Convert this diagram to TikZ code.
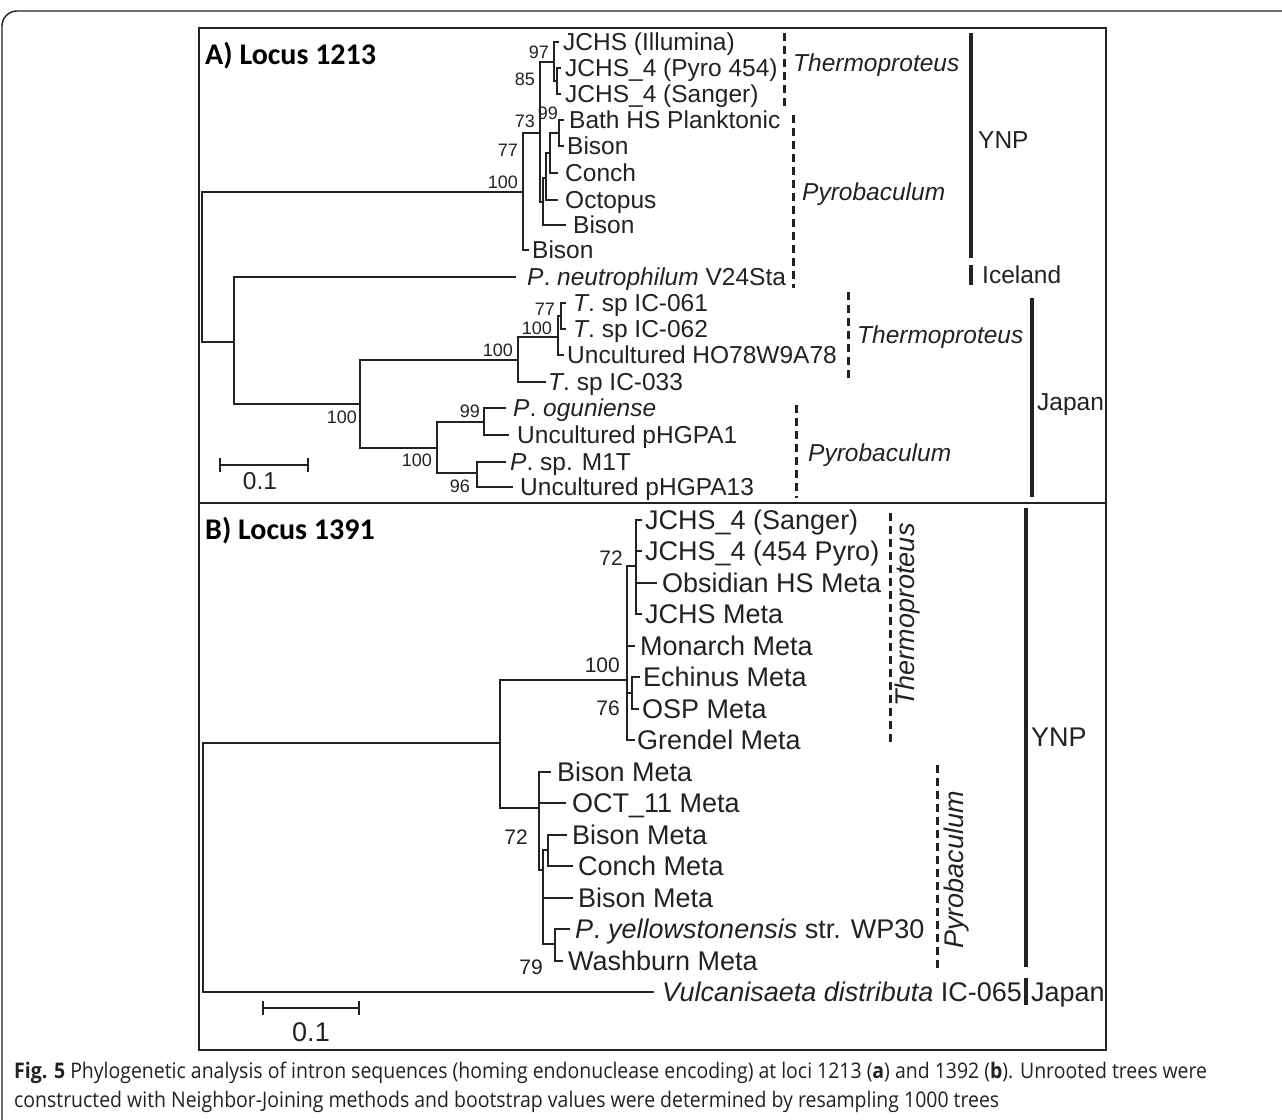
\documentclass[tikz,border=0pt]{standalone}
\usepackage{fontspec}
\setmainfont{Liberation Sans}
\newfontfamily\calib{Carlito}
\newfontfamily\capf[FakeStretch=0.905]{Open Sans}
\newcommand\fsA{\fontsize{24.5}{28}\selectfont}
\newcommand\fsB{\fontsize{27}{31}\selectfont}
\newcommand\fsBS{\fontsize{18}{21}\selectfont}
\newcommand\fsBB{\fontsize{21}{24}\selectfont}
\newcommand\fsT{\fontsize{30}{34}\selectfont}
\newcommand\fsC{\fontsize{21.5}{25}\selectfont}
\definecolor{ink}{HTML}{222222}
\tikzset{
  tl/.style={line width=1.9pt, draw=ink, line cap=rect},
  lfA/.style={anchor=base west, inner sep=0pt, yshift=-8.8pt, font=\fsA, text=ink},
  lfB/.style={anchor=base west, inner sep=0pt, yshift=-9.7pt, font=\fsB, text=ink},
  bsA/.style={anchor=base east, inner sep=0pt, yshift=-6.4pt, font=\fsBS, text=ink},
  bsB/.style={anchor=base east, inner sep=0pt, yshift=-7.5pt, font=\fsBB, text=ink},
  grp/.style={line width=3pt, draw=ink, dash pattern=on 8pt off 5pt},
  geo/.style={line width=3.2pt, draw=ink},
  box/.style={line width=1.8pt, draw=ink},
  ttl/.style={anchor=base west, inner sep=0pt, yshift=-9.7pt, font=\calib\bfseries\fsT, text=black},
}
\begin{document}
\begin{tikzpicture}[x=1pt,y=-1pt]
\useasboundingbox (0,0) rectangle (1282,1119);
\clip (0,0) rectangle (1282,1119);
\fill[white] (0,0) rectangle (1282,1119);
% outer frame
\draw[line width=1.4pt, draw=ink, rounded corners=15pt] (2,1160) -- (2,11) -- (1320,11);
% panels
\draw[box] (199,28) rectangle (1106,1050);
\draw[box] (199,503) -- (1106,503);
\node[ttl] (tA) at (205,55) {A) Locus 1213};
\node[ttl] (tB) at (205,530) {B) Locus 1391};

% ---------------- Panel A leaves
\node[lfA] (a1) at (563,42) {JCHS (Illumina)};
\node[lfA] (a2) at (565,68) {JCHS\_4 (Pyro 454)};
\node[lfA] (a3) at (565,94) {JCHS\_4 (Sanger)};
\node[lfA] (a4) at (569,120) {Bath HS Planktonic};
\node[lfA] (a5) at (567,146) {Bison};
\node[lfA] (a6) at (565,173) {Conch};
\node[lfA] (a7) at (565,200) {Octopus};
\node[lfA] (a8) at (573,225) {Bison};
\node[lfA] (a9) at (532,250) {Bison};
\node[lfA] (a10) at (527,277) {\textit{P}. \textit{neutrophilum} V24Sta};
\node[lfA] (a11) at (573,303) {\textit{T}. sp IC-061};
\node[lfA] (a12) at (573,329) {\textit{T}. sp IC-062};
\node[lfA] (a13) at (567,355) {Uncultured HO78W9A78};
\node[lfA] (a14) at (548,382) {\textit{T}. sp IC-033};
\node[lfA] (a15) at (513,408) {\textit{P}. \textit{oguniense}};
\node[lfA] (a16) at (517,435) {Uncultured pHGPA1};
\node[lfA] (a17) at (510,462) {\textit{P}. sp. M1T};
\node[lfA] (a18) at (520,487) {Uncultured pHGPA13};

% Panel A tree
\draw[tl] (558,42) -| (554,81) -- (557,81);
\draw[tl] (560,68) -| (557,94) -- (560,94);
\draw[tl] (540,62) -- (554,62);
\draw[tl] (540,62) -- (540,202) -- (543,202);
\draw[tl] (523,133) -- (540,133);
\draw[tl] (523,133) -- (523,250) -- (528,250);
\draw[tl] (563,120) -| (559,146) -- (563,146);
\draw[tl] (550,133) -- (559,133);
\draw[tl] (550,133) -- (550,173) -- (557,173);
\draw[tl] (546,153) -- (550,153);
\draw[tl] (546,153) -- (546,200) -- (557,200);
\draw[tl] (543,178) -- (546,178);
\draw[tl] (543,178) -- (543,225) -- (565,225);
\draw[tl] (523,192) -- (202,192) -- (202,342) -- (234,342);
\draw[tl] (515,277) -| (234,404) -- (360,404);
\draw[tl] (518,360) -| (360,448) -- (437,448);
\draw[tl] (558,337) -| (518,382) -- (545,382);
\draw[tl] (561,316) -| (558,355) -- (563,355);
\draw[tl] (565,303) -| (561,329) -- (565,329);
\draw[tl] (484,422) -| (437,473) -- (477,473);
\draw[tl] (505,408) -| (484,435) -- (508,435);
\draw[tl] (505,462) -| (477,487) -- (512,487);

% bootstrap A
\node[bsA] (ba1) at (549,52) {97};
\node[bsA] (ba2) at (535,79) {85};
\node[bsA] (ba3) at (558,113) {99};
\node[bsA] (ba4) at (535,121) {73};
\node[bsA] (ba5) at (518,150) {77};
\node[bsA] (ba6) at (518,182) {100};
\node[bsA] (ba7) at (555,309) {77};
\node[bsA] (ba8) at (552,328) {100};
\node[bsA] (ba9) at (513,350) {100};
\node[bsA] (ba10) at (357,417) {100};
\node[bsA] (ba11) at (480,411) {99};
\node[bsA] (ba12) at (432,460) {100};
\node[bsA] (ba13) at (470,486) {96};

% scale A
\draw[tl] (220,465) -- (308,465);
\draw[tl] (220,459) -- (220,471);
\draw[tl] (308,459) -- (308,471);
\node[font=\fsA, text=ink, inner sep=0pt] (sA) at (260,481) {0.1};

% groups A
\draw[grp] (784,33) -- (784,108);
\node[lfA, font=\fsA\itshape] (gA1) at (793,63) {Thermoproteus};
\draw[grp] (793,115) -- (793,288);
\node[lfA, font=\fsA\itshape] (gA2) at (802,192) {Pyrobaculum};
\draw[geo] (971,33) -- (971,258);
\node[lfA] (gA3) at (978,140) {YNP};
\draw[geo] (971,265) -- (971,285);
\node[lfA] (gA4) at (982,275) {Iceland};
\draw[grp] (848,292) -- (848,383);
\node[lfA, font=\fsA\itshape] (gA5) at (857,335) {Thermoproteus};
\draw[grp] (796,405) -- (796,498);
\node[lfA, font=\fsA\itshape] (gA6) at (808,453) {Pyrobaculum};
\draw[geo] (1032,298) -- (1032,497);
\node[lfA] (gA7) at (1037,402) {Japan};

% ---------------- Panel B leaves
\node[lfB] (b1) at (645,520) {JCHS\_4 (Sanger)};
\node[lfB] (b2) at (645,551) {JCHS\_4 (454 Pyro)};
\node[lfB] (b3) at (662,583) {Obsidian HS Meta};
\node[lfB] (b4) at (645,614) {JCHS Meta};
\node[lfB] (b5) at (640,646) {Monarch Meta};
\node[lfB] (b6) at (643,677) {Echinus Meta};
\node[lfB] (b7) at (642,709) {OSP Meta};
\node[lfB] (b8) at (637,740) {Grendel Meta};
\node[lfB] (b9) at (557,772) {Bison Meta};
\node[lfB] (b10) at (572,803) {OCT\_11 Meta};
\node[lfB] (b11) at (572,835) {Bison Meta};
\node[lfB] (b12) at (578,866) {Conch Meta};
\node[lfB] (b13) at (578,898) {Bison Meta};
\node[lfB] (b14) at (575,929) {\textit{P}. \textit{yellowstonensis} str. WP30};
\node[lfB] (b15) at (568,961) {Washburn Meta};
\node[lfB] (b16) at (662,992) {\textit{Vulcanisaeta distributa} IC-065};

% Panel B tree
\draw[tl] (500,743) -- (203,743) -- (203,992) -- (653,992);
\draw[tl] (627,680) -| (500,808) -- (539,808);
\draw[tl] (636,566) -| (627,740) -- (634,740);
\draw[tl] (641,520) -| (636,614) -- (641,614);
\draw[tl] (636,551) -- (641,551);
\draw[tl] (636,583) -- (656,583);
\draw[tl] (627,646) -- (634,646);
\draw[tl] (627,693) -- (632,693);
\draw[tl] (639,677) -| (632,709) -- (638,709);
\draw[tl] (550,772) -| (539,870) -- (543,870);
\draw[tl] (539,803) -- (565,803);
\draw[tl] (548,850) -| (543,944) -- (555,944);
\draw[tl] (566,835) -| (548,866) -- (572,866);
\draw[tl] (543,898) -- (572,898);
\draw[tl] (569,929) -| (555,961) -- (562,961);

% bootstrap B
\node[bsB] (bb1) at (623,558) {72};
\node[bsB] (bb2) at (620,665) {100};
\node[bsB] (bb3) at (620,708) {76};
\node[bsB] (bb4) at (528,837) {72};
\node[bsB] (bb5) at (543,967) {79};

% scale B
\draw[tl] (263,1008) -- (359,1008);
\draw[tl] (263,1002) -- (263,1014);
\draw[tl] (359,1002) -- (359,1014);
\node[font=\fsB, text=ink, inner sep=0pt] (sB) at (311,1032) {0.1};

% groups B
\draw[grp] (890,513) -- (890,742);
\node[rotate=90, font=\fsB\itshape, text=ink, inner sep=0pt] (gB1) at (908,615) {Thermoproteus};
\draw[grp] (937,765) -- (937,970);
\node[rotate=90, font=\fsB\itshape, text=ink, inner sep=0pt] (gB2) at (957,870) {Pyrobaculum};
\draw[geo] (1026,508) -- (1026,967);
\node[lfB] (gB3) at (1031,737) {YNP};
\draw[geo] (1026,978) -- (1026,1005);
\node[lfB] (gB4) at (1031,992) {Japan};

% caption
\node[anchor=base west, inner sep=0pt, font=\capf\fsC, text=ink] (cap1) at (14,1078)
  {\textbf{Fig. 5} Phylogenetic analysis of intron sequences (homing endonuclease encoding) at loci 1213 (\textbf{a}) and 1392 (\textbf{b}). Unrooted trees were};
\node[anchor=base west, inner sep=0pt, font=\capf\fsC, text=ink] (cap2) at (14,1107)
  {constructed with Neighbor-Joining methods and bootstrap values were determined by resampling 1000 trees};
\end{tikzpicture}
\end{document}
